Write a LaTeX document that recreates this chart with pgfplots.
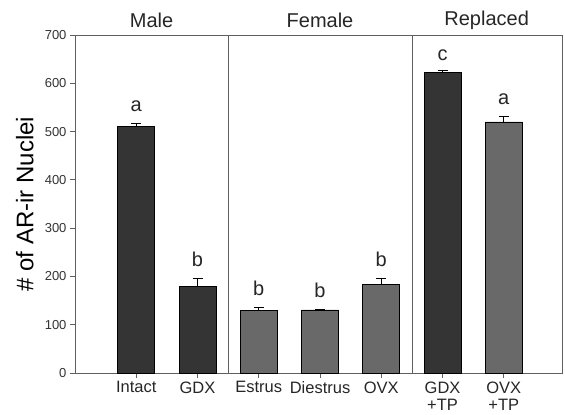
\documentclass[border=0pt]{standalone}
\usepackage{fontspec}
\setmainfont{Liberation Sans}
\usepackage{pgfplots}
\pgfplotsset{compat=1.18}
\definecolor{darkbar}{RGB}{52,52,52}
\definecolor{graybar}{RGB}{105,105,105}
\definecolor{axgray}{RGB}{95,95,95}
\begin{document}
\begin{tikzpicture}
\begin{axis}[
 name=ax,
 scale only axis, width=487pt, height=338pt,
 xmin=-1, xmax=6.95, ymin=0, ymax=700,
 axis line style={axgray, line width=0.8pt},
 ytick={0,100,200,300,400,500,600,700},
 yticklabels={0,100,200,300,400,500,600,700},
 xtick={0,...,6},
 xticklabels={Intact,GDX,Estrus,Diestrus,OVX,GDX\\+TP,OVX\\+TP},
 tick align=outside, tick pos=left,
 major tick length=5pt,
 tick style={axgray, line width=0.8pt},
 y tick label style={font=\fontsize{13}{14}\selectfont, text=black!80},
 x tick label style={font=\fontsize{16.5}{17.5}\selectfont, align=center, anchor=north, text=black!85},
 ylabel={\# of AR-ir Nuclei},
 ylabel style={font=\fontsize{24}{26}\selectfont, at={(axis description cs:-0.103,0.5)}, anchor=center},
 ybar, bar width=37pt, bar shift=0pt,
 clip=false,
 error bars/y dir=plus, error bars/y explicit,
 error bars/error mark options={rotate=90, mark size=5pt, line width=0.8pt},
 error bars/error bar style={line width=0.8pt},
]
\addplot[fill=darkbar, draw=black, line width=0.6pt] coordinates {(0,511) +- (0,5) (1,179) +- (0,16) (5,622) +- (0,4)};
\addplot[fill=graybar, draw=black, line width=0.6pt] coordinates {(2,129) +- (0,6) (3,130.5) +- (0,2) (4,184) +- (0,12) (6,520) +- (0,11)};
\draw[axgray, line width=0.8pt] (axis cs:1.5,0) -- (axis cs:1.5,700);
\draw[axgray, line width=0.8pt] (axis cs:4.5,0) -- (axis cs:4.5,700);
\begin{scope}[every node/.style={font=\fontsize{20}{22}\selectfont, anchor=base, text=black!85}]
\node at (axis cs:0,541) {a};
\node at (axis cs:1,220) {b};
\node at (axis cs:2,160) {b};
\node at (axis cs:3,157) {b};
\node at (axis cs:4,221) {b};
\node at (axis cs:5,648) {c};
\node at (axis cs:6,556) {a};
\end{scope}
\begin{scope}[every node/.style={font=\fontsize{20}{22}\selectfont, anchor=center, text=black!85}]
\node at (axis cs:0.25,731) {Male};
\node at (axis cs:3,731) {Female};
\node at (axis cs:5.72,731) {Replaced};
\end{scope}
\end{axis}
\pgfresetboundingbox
\path (ax.south west) ++(-75pt,-42pt) rectangle ++(565pt,415pt);
\end{tikzpicture}
\end{document}
